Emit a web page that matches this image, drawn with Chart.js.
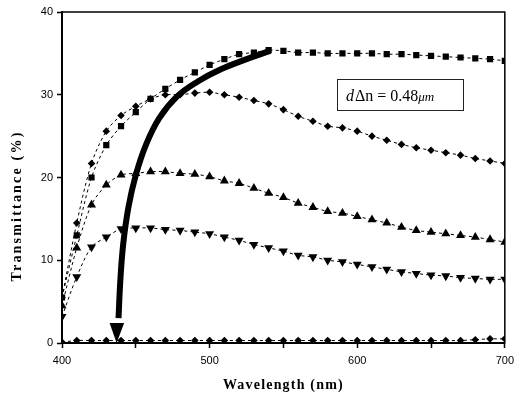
<!DOCTYPE html>
<html>
<head>
<meta charset="utf-8">
<script src="https://cdn.jsdelivr.net/npm/chart.js@4"></script>
<style>
  html, body { margin: 0; padding: 0; background: #fff; }
  #wrap { width: 520px; height: 395px; }
</style>
</head>
<body>
<div id="wrap"><canvas id="chart" width="520" height="395"></canvas></div>
<script>
// wavelength grid (nm)
const wavelengths = [400, 410, 420, 430, 440, 450, 460, 470, 480, 490, 500, 510, 520, 530, 540, 550,
  560, 570, 580, 590, 600, 610, 620, 630, 640, 650, 660, 670, 680, 690, 700];

// transmittance (%) per curve
const squareT = [5.5, 13.0, 20.0, 23.9, 26.2, 27.9, 29.5, 30.7, 31.8, 32.7, 33.6, 34.3, 34.9, 35.1, 35.4, 35.3,
  35.1, 35.1, 35.0, 35.0, 35.0, 35.0, 34.9, 34.9, 34.8, 34.7, 34.6, 34.5, 34.4, 34.3, 34.1];
const diamondT = [5.5, 14.5, 21.7, 25.6, 27.5, 28.6, 29.5, 30.0, 30.0, 30.2, 30.3, 30.0, 29.7, 29.3, 28.9, 28.2,
  27.4, 26.8, 26.2, 26.0, 25.6, 25.0, 24.5, 24.0, 23.6, 23.3, 23.0, 22.7, 22.3, 22.0, 21.7];
const triUpT = [4.5, 11.5, 16.7, 19.1, 20.3, 20.5, 20.7, 20.7, 20.5, 20.4, 20.1, 19.6, 19.3, 18.7, 18.1, 17.6,
  16.9, 16.4, 15.9, 15.7, 15.3, 14.9, 14.5, 14.0, 13.6, 13.4, 13.2, 13.0, 12.8, 12.5, 12.2];
const triDownT = [3.2, 8.0, 11.6, 12.8, 13.8, 13.9, 13.9, 13.7, 13.6, 13.4, 13.2, 12.8, 12.4, 11.9, 11.5, 11.1,
  10.6, 10.4, 10.0, 9.8, 9.5, 9.2, 8.9, 8.6, 8.4, 8.2, 8.1, 7.9, 7.8, 7.7, 7.7];
const offT = [0.1, 0.3, 0.3, 0.3, 0.3, 0.3, 0.3, 0.3, 0.3, 0.3, 0.3, 0.3, 0.3, 0.3, 0.3, 0.3,
  0.3, 0.3, 0.3, 0.3, 0.3, 0.3, 0.3, 0.3, 0.3, 0.3, 0.3, 0.3, 0.4, 0.5, 0.5];

// thick arrow: from the peak of the top curve down to the off-state curve
const arrowWl = [541, 525, 508, 492, 478, 466, 457, 450, 445, 441.5, 439.5, 438.3];
const arrowT = [35.3, 34.3, 33.1, 31.6, 29.8, 27.2, 24.0, 20.3, 16.4, 12.0, 7.5, 3.0];
const arrowTip = [437, 0];

const yTicks = [0, 10, 20, 30, 40];
const xTicks = [400, 500, 600, 700];
const labelText = { d: 'd', rest: '\u0394n = 0.48', unit: '\u03bcm' };

const pts = (ys) => wavelengths.map((x, i) => ({ x: x, y: ys[i] }));

function curve(ys, style, radius, rotation) {
  return {
    data: pts(ys),
    borderColor: '#000',
    backgroundColor: '#000',
    borderWidth: 1,
    borderDash: [3, 3],
    pointStyle: style,
    pointRadius: radius,
    pointRotation: rotation || 0,
    pointBorderWidth: 0,
    tension: 0.3
  };
}

const arrowData = arrowWl.map((x, i) => ({ x: x, y: arrowT[i] }));

const extras = {
  id: 'extras',
  afterDatasetsDraw(chart) {
    const { ctx, chartArea: a, scales: { x, y } } = chart;
    ctx.save();
    // arrowhead
    const tx = x.getPixelForValue(arrowTip[0]);
    const ty = y.getPixelForValue(arrowTip[1]);
    ctx.fillStyle = '#000';
    ctx.beginPath();
    ctx.moveTo(tx, ty);
    ctx.lineTo(tx - 7, ty - 20);
    ctx.lineTo(tx + 7.5, ty - 20);
    ctx.closePath();
    ctx.fill();

    // frame
    ctx.strokeStyle = '#000';
    ctx.lineWidth = 1.5;
    ctx.strokeRect(a.left, a.top, a.right - a.left, a.bottom - a.top);

    // label box
    ctx.lineWidth = 1;
    ctx.strokeStyle = '#222';
    ctx.strokeRect(337.5, 79.5, 126, 31);
    ctx.fillStyle = '#000';
    ctx.textBaseline = 'alphabetic';
    ctx.font = 'italic 16px "Liberation Serif"';
    ctx.fillText(labelText.d, 346, 101);
    let w = ctx.measureText(labelText.d).width;
    ctx.font = '16px "Liberation Serif"';
    ctx.fillText(labelText.rest, 346 + w + 1, 101);
    w += 1 + ctx.measureText(labelText.rest).width;
    ctx.font = 'italic 13px "Liberation Serif"';
    ctx.fillText(labelText.unit, 346 + w, 101);

    // axis titles
    ctx.font = 'bold 14px "Liberation Serif"';
    ctx.letterSpacing = '1.2px';
    ctx.textAlign = 'center';
    ctx.textBaseline = 'middle';
    ctx.fillText('Wavelength (nm)', (a.left + a.right) / 2, 385);
    ctx.translate(17, 206);
    ctx.rotate(-Math.PI / 2);
    ctx.letterSpacing = '2.2px';
    ctx.fillText('Transmittance (%)', 0, 0);
    ctx.restore();
  }
};

new Chart(document.getElementById('chart'), {
  type: 'line',
  data: {
    datasets: [
      curve(squareT, 'rect', 4.4),
      curve(diamondT, 'rectRot', 3.8),
      curve(triUpT, 'triangle', 5.2),
      curve(triDownT, 'triangle', 5.2, 180),
      curve(offT, 'rectRot', 3.8),
      {
        data: arrowData,
        borderColor: '#000',
        borderWidth: 6,
        pointRadius: 0,
        tension: 0.4,
        borderCapStyle: 'butt'
      }
    ]
  },
  options: {
    responsive: false,
    animation: false,
    layout: { padding: { top: 12, right: 14, left: 0, bottom: 0 } },
    plugins: { legend: { display: false }, tooltip: { enabled: false } },
    scales: {
      x: {
        type: 'linear',
        min: 400,
        max: 700,
        afterFit: (s) => { s.height = 52; },
        border: { color: '#000', width: 2 },
        grid: { drawOnChartArea: false, tickLength: 5, color: '#000', tickWidth: 1.5 },
        ticks: {
          stepSize: 50,
          padding: 6,
          color: '#000',
          font: { family: 'Liberation Sans', size: 11 },
          callback: (v) => (xTicks.includes(v) ? String(v) : '')
        }
      },
      y: {
        min: 0,
        max: 40,
        afterFit: (s) => { s.width = 62; },
        border: { color: '#000', width: 2 },
        grid: {
          drawOnChartArea: false,
          tickLength: 5,
          tickWidth: 1.5,
          color: (c) => (yTicks.includes(c.tick && c.tick.value) ? '#000' : 'rgba(0,0,0,0)')
        },
        ticks: {
          stepSize: 5,
          padding: 4,
          color: '#000',
          font: { family: 'Liberation Sans', size: 11 },
          callback: (v) => (yTicks.includes(v) ? String(v) : '')
        }
      }
    }
  },
  plugins: [extras]
});
</script>
</body>
</html>
